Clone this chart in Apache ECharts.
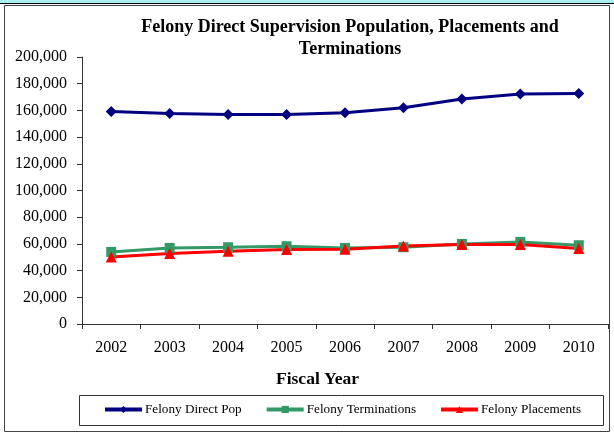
<!DOCTYPE html>
<html><head><meta charset="utf-8">
<script src="https://cdn.jsdelivr.net/npm/echarts@6/dist/echarts.min.js"></script>
<style>html,body{margin:0;padding:0;background:#fff}#c{width:614px;height:435px}</style>
</head><body><div id="c"></div>
<script>
const years = ['2002','2003','2004','2005','2006','2007','2008','2009','2010'];
const directPop = [159250, 157750, 157000, 157000, 158250, 162000, 168500, 172250, 172750];
const terminations = [54000, 57000, 57500, 58250, 57000, 57500, 60000, 61500, 59000];
const placements = [50250, 52750, 54500, 55750, 56000, 58500, 59500, 59500, 56500];
const seriesNames = ['Felony Direct Pop', 'Felony Terminations', 'Felony Placements'];
const titleText = 'Felony Direct Supervision Population, Placements and\nTerminations';
const xTitle = 'Fiscal Year';

const font = '"Liberation Serif", "Times New Roman", serif';
const chart = echarts.init(document.getElementById('c'));
const mk = (name, data, color, symbol, size) => ({
  name, type: 'line', data, symbol, symbolSize: size,
  lineStyle: { color, width: 3 }, itemStyle: { color },
  emphasis: { disabled: true }, animation: false
});
chart.setOption({
  animation: false,
  title: {
    text: titleText, left: 350, top: 16, textAlign: 'center', padding: 0,
    textStyle: { fontFamily: font, fontSize: 18, fontWeight: 'bold', color: '#000', lineHeight: 22 }
  },
  grid: { left: 82, right: 6, top: 57, bottom: 111 },
  xAxis: {
    type: 'category', data: years, boundaryGap: true,
    axisLine: { lineStyle: { color: '#333', width: 1 } },
    axisTick: { show: true, length: 5, lineStyle: { color: '#333' } },
    axisLabel: { fontFamily: font, fontSize: 16, color: '#000', margin: 16 },
    splitLine: { show: false }
  },
  yAxis: {
    type: 'value', min: 0, max: 200000, interval: 20000,
    axisLine: { show: true, lineStyle: { color: '#333', width: 1 } },
    axisTick: { show: true, length: 5, lineStyle: { color: '#333' } },
    axisLabel: { fontFamily: font, fontSize: 16, color: '#000', margin: 15,
      formatter: v => v.toLocaleString('en-US') },
    splitLine: { show: false }
  },
  legend: {
    data: seriesNames, left: 103, top: 403, padding: 0, itemWidth: 37, itemHeight: 9, itemGap: 23,
    lineStyle: { width: 4 },
    textStyle: { fontFamily: font, fontSize: 13.2, color: '#000', padding: [0,0,0,-2] }
  },
  graphic: [
    { type: 'rect', shape: { x: 0, y: 0, width: 614, height: 3 }, style: { fill: '#a8f0f0' }, silent: true },
    { type: 'line', shape: { x1: 0, y1: 3.5, x2: 614, y2: 3.5 }, style: { stroke: '#000', lineWidth: 1 }, silent: true },
    { type: 'rect', shape: { x: 4.5, y: 5.5, width: 605, height: 426 }, style: { fill: 'none', stroke: '#444', lineWidth: 1 }, silent: true, z: -1 },
    { type: 'rect', shape: { x: 79.5, y: 395.5, width: 524, height: 30 }, style: { fill: 'none', stroke: '#333', lineWidth: 1 }, silent: true, z: -1 },
    { type: 'text', left: 276, top: 370, silent: true,
      style: { text: xTitle, font: 'bold 17.5px ' + font, fill: '#000' } }
  ],
  series: [
    mk(seriesNames[0], directPop, '#000080', 'diamond', 11),
    mk(seriesNames[1], terminations, '#339966', 'rect', 10),
    mk(seriesNames[2], placements, '#ff0000', 'triangle', 11)
  ]
});
</script></body></html>
